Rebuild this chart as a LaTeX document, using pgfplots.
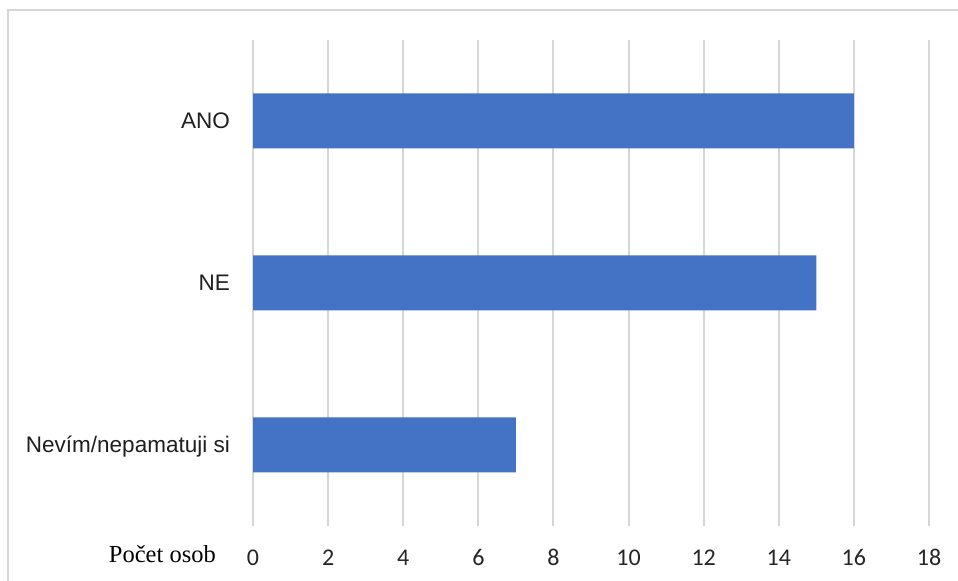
\documentclass[border=0pt]{standalone}
\usepackage{fontspec}
\usepackage{pgfplots}
\pgfplotsset{compat=1.18}
\newfontfamily\ticksfont{Carlito}
\newfontfamily\catfont{Liberation Sans}
\newfontfamily\serfont{Liberation Serif}
\definecolor{barblue}{HTML}{4472C4}
\definecolor{gridgray}{HTML}{D6D6D6}
\begin{document}
\begin{tikzpicture}
\useasboundingbox (0,0) rectangle (958bp,581bp);
% chart frame (top and left edges)
\draw[gridgray, line width=2.4bp] (8bp,0bp) -- (8bp,571bp) -- (958bp,571bp);
\begin{axis}[
  at={(253bp,55bp)}, anchor=south west,
  scale only axis, width=676bp, height=486bp,
  xbar, bar width=55bp,
  xmin=0, xmax=18, ymin=-0.5, ymax=2.5,
  xtick={0,2,...,18},
  ytick={0,1,2},
  yticklabels={Nevím/nepamatuji si, NE, ANO},
  axis line style={draw=none},
  major tick length=0pt,
  xmajorgrids, major grid style={gridgray, line width=2bp},
  /pgf/number format/assume math mode=true,
  xticklabel style={font=\ticksfont\fontsize{24bp}{28bp}\selectfont, text=black!85, anchor=base, yshift=-39bp, inner sep=0pt},
  yticklabel style={font=\catfont\fontsize{22.5bp}{27bp}\selectfont, text=black!88, anchor=base east, inner sep=0pt, xshift=-23bp, yshift=-7.8bp},
]
\addplot[fill=barblue, draw=none] coordinates {(7,0) (15,1) (16,2)};
\end{axis}
\node[anchor=base east, inner sep=0pt, font=\serfont\fontsize{24.5bp}{29bp}\selectfont] at (216bp,19bp) {Počet osob};
\end{tikzpicture}
\end{document}
